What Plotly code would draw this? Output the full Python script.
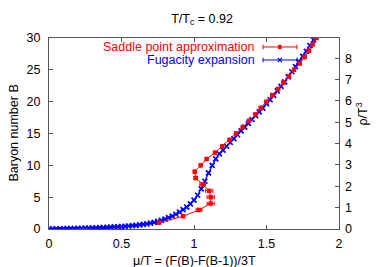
import plotly.graph_objects as go

# Saddle point approximation (red): baryon number B vs mu/T
saddle_B = list(range(1, 31))
saddle_mu = [0.76, 0.925, 1.035, 1.115, 1.115, 1.105, 1.06, 1.012, 1.005, 1.046,
             1.087, 1.145, 1.195, 1.245, 1.29, 1.336, 1.38, 1.425, 1.46, 1.50,
             1.54, 1.58, 1.616, 1.655, 1.69, 1.73, 1.763, 1.793, 1.818, 1.845]
saddle_err = [0.0, 0.008, 0.02, 0.025, 0.025, 0.025, 0.02, 0.012, 0.0, 0.0,
              0.0, 0.0, 0.0, 0.0, 0.0, 0.0, 0.0, 0.0, 0.0, 0.0,
              0.0, 0.0, 0.0, 0.0, 0.0, 0.0, 0.0, 0.0, 0.0, 0.0]

# Fugacity expansion (blue)
fug_mu = [0.0, 0.025, 0.05, 0.075, 0.1, 0.125, 0.15, 0.175, 0.2, 0.225,
          0.25, 0.275, 0.3, 0.325, 0.35, 0.375, 0.4, 0.425, 0.45, 0.475,
          0.5, 0.525, 0.55, 0.575, 0.6, 0.625, 0.65, 0.675, 0.7, 0.725,
          0.75, 0.775, 0.8, 0.825, 0.85, 0.875, 0.9, 0.925, 0.95, 0.975,
          1.0, 1.025, 1.05, 1.075, 1.1, 1.125, 1.15, 1.175, 1.2, 1.225,
          1.25, 1.275, 1.3, 1.325, 1.35, 1.375, 1.4, 1.425, 1.45, 1.475,
          1.5, 1.525, 1.55, 1.575, 1.6, 1.625, 1.65, 1.675, 1.7, 1.725,
          1.75, 1.775, 1.8, 1.825]
fug_B = [0.0, 0.01, 0.02, 0.03, 0.04, 0.05, 0.065, 0.08, 0.095, 0.11,
         0.13, 0.15, 0.17, 0.19, 0.21, 0.23, 0.26, 0.29, 0.32, 0.35,
         0.38, 0.42, 0.47, 0.52, 0.58, 0.65, 0.73, 0.82, 0.93, 1.05,
         1.2, 1.37, 1.56, 1.78, 2.03, 2.32, 2.65, 3.03, 3.45, 3.95,
         4.55, 5.3, 6.3, 7.5, 8.8, 10.0, 11.0, 11.8, 12.4, 13.0,
         13.6, 14.2, 14.8, 15.4, 16.0, 16.6, 17.2, 17.8, 18.4, 19.0,
         19.7, 20.3, 21.0, 21.7, 22.4, 23.1, 23.9, 24.7, 25.5, 26.3,
         27.1, 27.9, 28.8, 29.7]

x_ticks = [0, 0.5, 1, 1.5, 2]
x_tick_text = ["0", "0.5", "1", "1.5", "2"]
y_ticks = [0, 5, 10, 15, 20, 25, 30]
y2_ticks = [0, 1, 2, 3, 4, 5, 6, 7, 8]

RED = "#ff0000"
BLUE = "#0000ff"
FONT = "Liberation Sans, Arial, sans-serif"
FS = 12.5

fig = go.Figure()
fig.add_trace(go.Scatter(
    x=fug_mu, y=fug_B, mode="lines+markers",
    line=dict(color=BLUE, width=1.3),
    marker=dict(symbol="x-thin", size=5, line=dict(color=BLUE, width=1.7)),
    showlegend=False))
fig.add_trace(go.Scatter(
    x=saddle_mu, y=saddle_B, mode="lines+markers",
    line=dict(color=RED, width=1),
    marker=dict(symbol="square", size=4.5, color=RED),
    error_x=dict(type="data", array=saddle_err, color=RED, thickness=1, width=2),
    showlegend=False))
# dummy trace for right axis
fig.add_trace(go.Scatter(x=[None], y=[None], yaxis="y2", showlegend=False))

axis_color = "#555555"
# the page body adds an 8px offset; margins compensate for it
fig.update_layout(
    width=382, height=267,
    margin=dict(l=41, r=51, t=30, b=46, autoexpand=False),
    paper_bgcolor="white", plot_bgcolor="white",
    font=dict(family=FONT, size=FS, color="black"),
    title=dict(text="T/T<sub>c</sub> = 0.92", x=0.508, xanchor="center",
               y=0.962, yanchor="middle", font=dict(size=FS), automargin=False),
    xaxis=dict(range=[0, 2], tickvals=x_ticks, ticktext=x_tick_text,
               ticks="inside", ticklen=4, tickcolor=axis_color,
               showline=True, linecolor=axis_color, linewidth=1, mirror="ticks",
               showgrid=False, zeroline=False, automargin=False,
               ticklabelstandoff=3),
    yaxis=dict(range=[0, 30], tickvals=y_ticks, ticks="inside", ticklen=4,
               tickcolor=axis_color, showline=True, linecolor=axis_color,
               linewidth=1, mirror=True, showgrid=False, zeroline=False,
               automargin=False, ticklabelstandoff=5),
    yaxis2=dict(range=[0, 8.95], tickvals=y2_ticks, overlaying="y", side="right",
                ticks="inside", ticklen=4, tickcolor=axis_color, automargin=False,
                showline=False, showgrid=False, zeroline=False,
                ticklabelstandoff=5),
)

# axis titles as annotations for exact placement
fig.add_annotation(text="μ/T = (F(B)-F(B-1))/3T", xref="paper", yref="paper",
                   x=0.5, y=-0.17, xanchor="center", yanchor="middle",
                   showarrow=False, font=dict(size=FS))
fig.add_annotation(text="Baryon number B", xref="paper", yref="paper",
                   x=-0.124, y=0.5, xanchor="center", yanchor="middle",
                   textangle=-90, showarrow=False, font=dict(size=FS))
fig.add_annotation(text="ρ/T<sup>3</sup>", xref="paper", yref="paper",
                   x=1.08, y=0.6, textangle=-90, showarrow=False,
                   xanchor="center", yanchor="middle", font=dict(size=FS))

# legend (text right aligned, sample to the right)
legend_rows = [("Saddle point approximation", RED, 0.953, "square"),
               ("Fugacity expansion", BLUE, 0.885, "x")]
for label, col, yy, sym in legend_rows:
    fig.add_annotation(text=label, xref="paper", yref="paper", x=0.716, y=yy,
                       xanchor="right", yanchor="middle", showarrow=False,
                       font=dict(size=FS, color=col))
    fig.add_shape(type="line", xref="paper", yref="paper", x0=0.738, x1=0.855,
                  y0=yy, y1=yy, line=dict(color=col, width=1))
    for xc in (0.738, 0.855):
        fig.add_shape(type="line", xref="paper", yref="paper", x0=xc, x1=xc,
                      y0=yy - 0.012, y1=yy + 0.012, line=dict(color=col, width=1))
    if sym == "square":
        fig.add_shape(type="rect", xref="paper", yref="paper", x0=0.790, x1=0.802,
                      y0=yy - 0.011, y1=yy + 0.011, fillcolor=col,
                      line=dict(color=col, width=0))
    else:
        fig.add_shape(type="line", xref="paper", yref="paper", x0=0.789, x1=0.803,
                      y0=yy - 0.011, y1=yy + 0.011, line=dict(color=col, width=1.2))
        fig.add_shape(type="line", xref="paper", yref="paper", x0=0.789, x1=0.803,
                      y0=yy + 0.011, y1=yy - 0.011, line=dict(color=col, width=1.2))

fig.write_html("out.html")
